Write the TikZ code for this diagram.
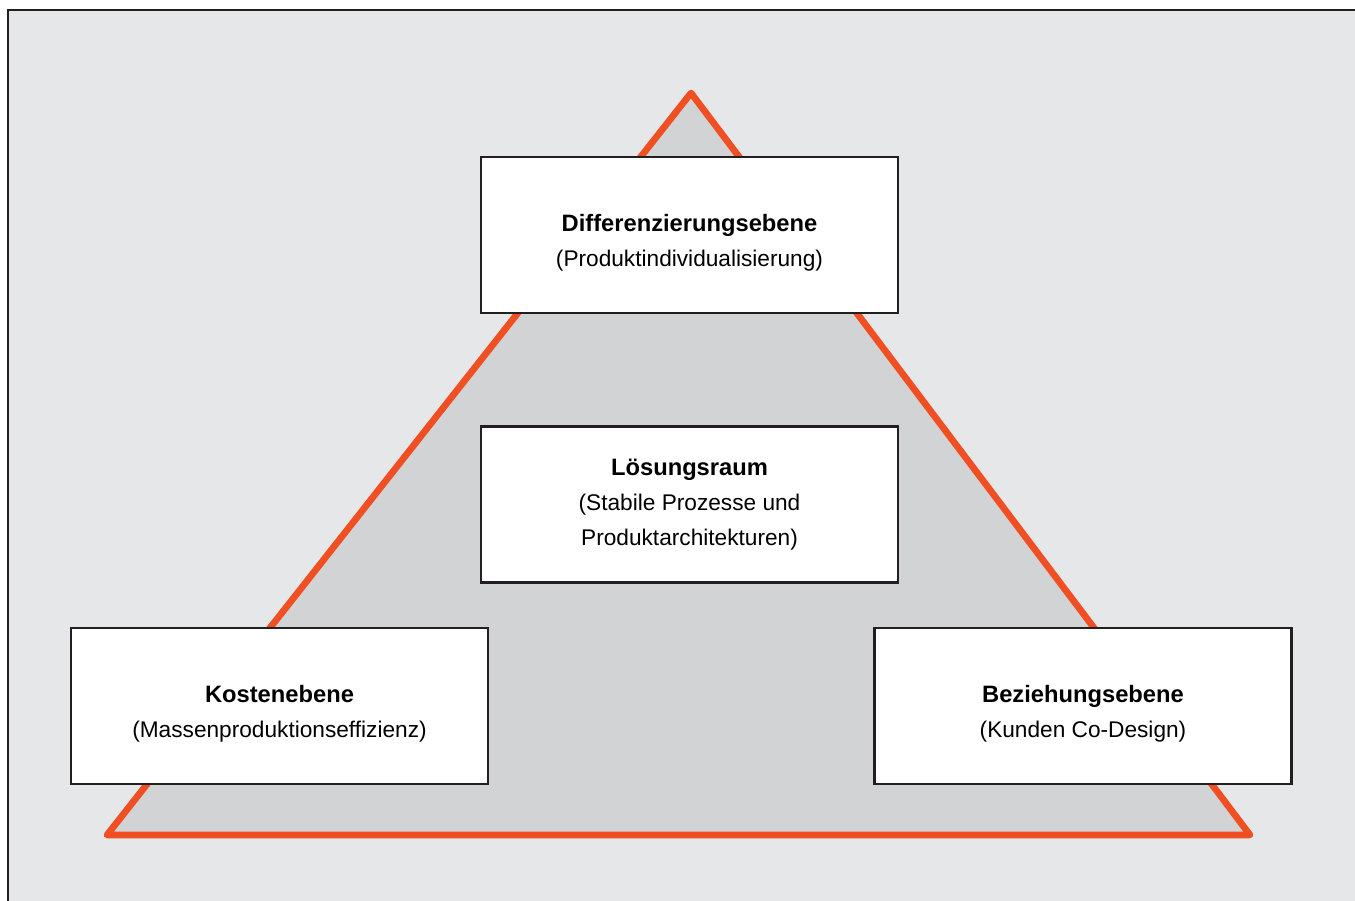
\documentclass[tikz,border=0pt]{standalone}
\usepackage{fontspec}
\setmainfont{Liberation Sans}
\definecolor{framegray}{RGB}{230, 231, 232}
\definecolor{pyrgray}{RGB}{209, 211, 212}
\definecolor{pyrorange}{RGB}{240, 78, 35}
\definecolor{linedark}{RGB}{35, 31, 32}
\usetikzlibrary{positioning}
\newcommand{\subtxt}[1]{{\fontsize{12.9}{20}\selectfont #1}}

\begin{document}
\begin{tikzpicture}[
  x=0.02cm, y=-0.02cm,
  levelbox/.style={draw=linedark, line width=1.5pt, fill=white, minimum width=8.34cm,
                   minimum height=3.12cm, align=center, font=\fontsize{13.5}{20}\selectfont,
                   inner sep=4pt},
]
\useasboundingbox (0,0) rectangle (1355,901);

% Frame
\fill[white] (0,0) rectangle (1355,901);
\draw[linedark, line width=1.2pt, fill=framegray] (8,10) rectangle (1370,915);

% Pyramid
\draw[pyrorange, line width=3.8pt, line join=round, fill=pyrgray]
  (691,93) -- (1250,835) -- (107,835) -- cycle;

% Levels
\node[levelbox] (diff) at (689.5,235) {\rule{0pt}{19pt}\textbf{Differenzierungsebene}\\\subtxt{(Produktindividualisierung)}};
\node[levelbox] (loes) at (689.5,504.5) {\textbf{Lösungsraum}\\\subtxt{(Stabile Prozesse und}\\\subtxt{Produktarchitekturen)}};
\node[levelbox] (kost) at (279.5,706) {\rule{0pt}{19pt}\textbf{Kostenebene}\\\subtxt{(Massenproduktionseffizienz)}};
\node[levelbox] (bez) at (1083,706) {\rule{0pt}{19pt}\textbf{Beziehungsebene}\\\subtxt{(Kunden Co-Design)}};
\end{tikzpicture}
\end{document}
